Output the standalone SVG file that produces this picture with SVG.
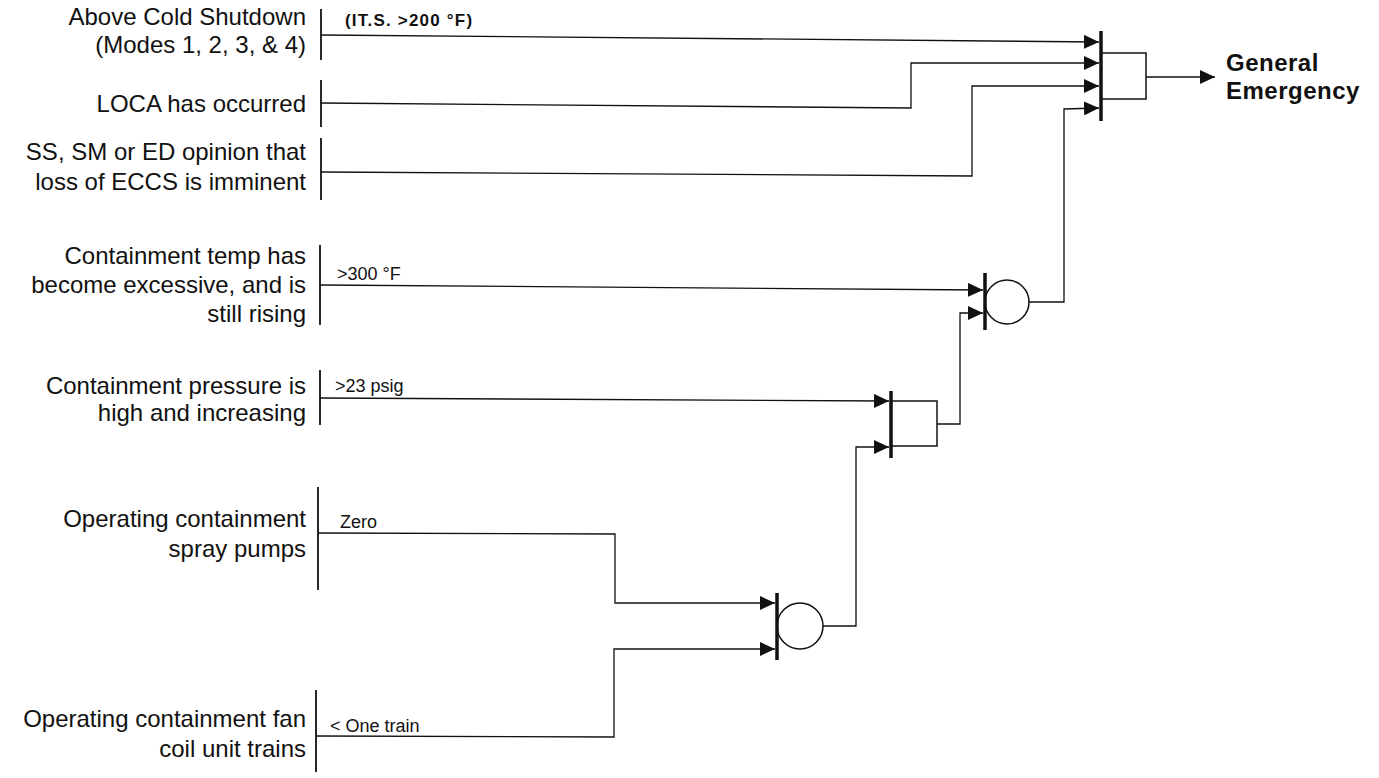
<svg xmlns="http://www.w3.org/2000/svg" width="1379" height="778" viewBox="0 0 1379 778">
<style>
.lbl{font-family:"Liberation Sans",Arial,sans-serif;font-size:24px;fill:#111;text-anchor:end}
.cond{font-family:"Liberation Sans",Arial,sans-serif;font-size:18px;fill:#111}
.bold{font-family:"Liberation Sans",Arial,sans-serif;font-weight:bold;fill:#111}
.bar{stroke:#111;stroke-width:1.8;fill:none}
.gbar{stroke:#111;stroke-width:3.5;fill:none}
.gate{stroke:#111;stroke-width:1.5;fill:#fff}
.wire{stroke:#111;stroke-width:1.3;fill:none;marker-end:url(#ah)}
</style>
<defs>
<marker id="ah" markerUnits="userSpaceOnUse" markerWidth="15" markerHeight="14" refX="15" refY="7" orient="auto">
<path d="M0,0 L15,7 L0,14 z" fill="#111"/>
</marker>
</defs>
<rect width="1379" height="778" fill="#fff"/>

<g id="in-above">
<line class="bar" x1="321" y1="9" x2="321" y2="60"/>
<text class="lbl" x="306" y="25">Above Cold Shutdown</text>
<text class="lbl" x="306" y="53">(Modes 1, 2, 3, &amp; 4)</text>
<text class="bold" x="345" y="26" font-size="17" letter-spacing="1.2">(IT.S. &gt;200 °F)</text>
</g>
<g id="in-loca">
<line class="bar" x1="321" y1="80" x2="321" y2="127"/>
<text class="lbl" x="306" y="112">LOCA has occurred</text>
</g>
<g id="in-opinion">
<line class="bar" x1="321" y1="138" x2="321" y2="200"/>
<text class="lbl" x="306" y="160">SS, SM or ED opinion that</text>
<text class="lbl" x="306" y="190">loss of ECCS is imminent</text>
</g>
<g id="in-temp">
<line class="bar" x1="320" y1="245" x2="320" y2="325"/>
<text class="lbl" x="306" y="264">Containment temp has</text>
<text class="lbl" x="306" y="293">become excessive, and is</text>
<text class="lbl" x="306" y="322">still rising</text>
<text class="cond" x="337" y="280">&gt;300 °F</text>
</g>
<g id="in-pressure">
<line class="bar" x1="320" y1="370" x2="320" y2="425"/>
<text class="lbl" x="306" y="394">Containment pressure is</text>
<text class="lbl" x="306" y="421">high and increasing</text>
<text class="cond" x="335" y="392">&gt;23 psig</text>
</g>
<g id="in-spray">
<line class="bar" x1="318" y1="487" x2="318" y2="590"/>
<text class="lbl" x="306" y="527">Operating containment</text>
<text class="lbl" x="306" y="557">spray pumps</text>
<text class="cond" x="340" y="528">Zero</text>
</g>
<g id="in-fan">
<line class="bar" x1="316" y1="690" x2="316" y2="772"/>
<text class="lbl" x="306" y="727">Operating containment fan</text>
<text class="lbl" x="306" y="757">coil unit trains</text>
<text class="cond" x="330" y="732">&lt; One train</text>
</g>

<g id="gate-spray-fan">
<circle class="gate" cx="800" cy="626" r="23"/>
<line class="gbar" x1="777" y1="593" x2="777" y2="660"/>
</g>
<g id="gate-pressure">
<rect class="gate" x="891" y="401" width="46" height="45"/>
<line class="gbar" x1="891" y1="391" x2="891" y2="458"/>
</g>
<g id="gate-temp">
<circle class="gate" cx="1007" cy="302" r="22"/>
<line class="gbar" x1="985" y1="273" x2="985" y2="330"/>
</g>
<g id="gate-top">
<rect class="gate" x="1101" y="53" width="45" height="46"/>
<line class="gbar" x1="1101" y1="31" x2="1101" y2="121"/>
</g>
<g id="out-general">
<text class="bold" x="1226" y="71" font-size="24" letter-spacing="0.5">General</text>
<text class="bold" x="1226" y="99" font-size="24" letter-spacing="0.5">Emergency</text>
</g>

<g id="connectors">
<polyline class="wire" points="321,35 1099,42"/>
<polyline class="wire" points="321,103 911,108 911,63 1099,63"/>
<polyline class="wire" points="321,172 972,176 972,86 1099,86"/>
<polyline class="wire" points="320,285 983,290"/>
<polyline class="wire" points="320,398 889,401"/>
<polyline class="wire" points="318,533 615,534 615,603 775,603"/>
<polyline class="wire" points="316,736 614,737 614,649 775,649"/>
<polyline class="wire" points="823,626 856,626 856,447 889,447"/>
<polyline class="wire" points="937,424 960,424 960,313 983,313"/>
<polyline class="wire" points="1029,302 1064,302 1064,109 1099,108"/>
<polyline class="wire" points="1146,77 1215,77"/>
</g>
</svg>
